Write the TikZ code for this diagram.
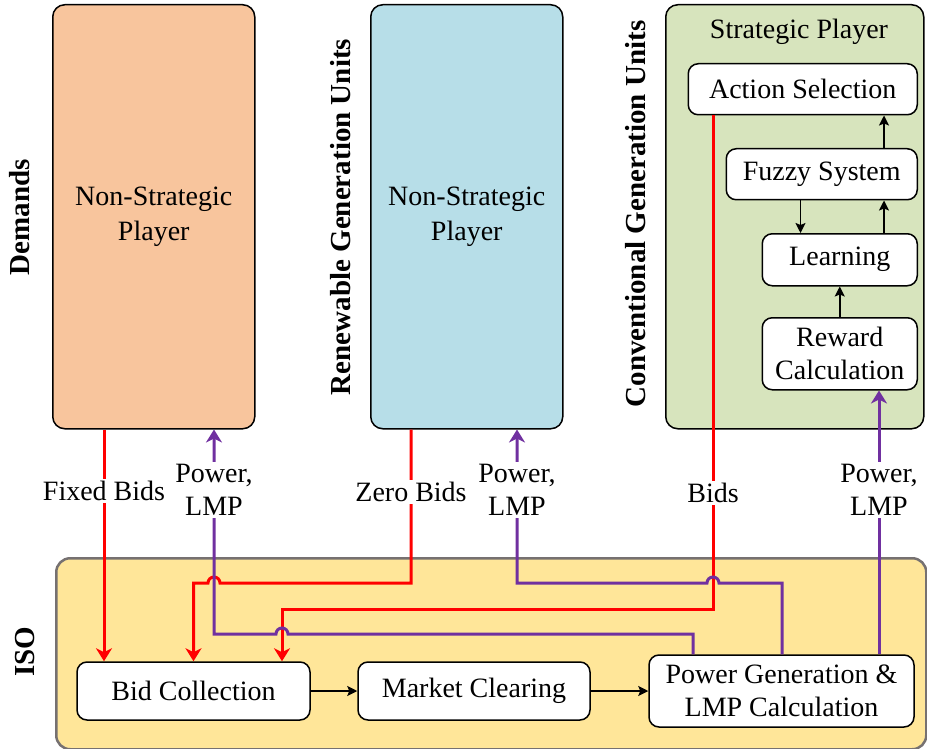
\documentclass[tikz,border=0pt]{standalone}
\usepackage{fontspec}
\setmainfont{Liberation Serif}
\usepackage{xcolor}
\usetikzlibrary{arrows.meta, positioning}
\definecolor{demandfill}{HTML}{F8C59D}
\definecolor{renewfill}{HTML}{B7DEE8}
\definecolor{stratfill}{HTML}{D7E4BD}
\definecolor{isofill}{HTML}{FFE699}
\definecolor{isoedge}{HTML}{767171}
\definecolor{bidred}{HTML}{FF0000}
\definecolor{powpurple}{HTML}{7030A0}

\begin{document}
\begin{tikzpicture}[x=1pt, y=-1pt,
    font=\fontsize{28}{33}\selectfont,
    player/.style={draw, line width=1.5pt, rounded corners=12pt, align=center, font=\fontsize{28}{35}\selectfont},
    blockbox/.style={draw, fill=white, line width=1.5pt, rounded corners=10pt, align=center, inner sep=0pt},
    sidelab/.style={rotate=90, font=\fontsize{29}{34}\selectfont\bfseries},
    linelab/.style={fill=white, align=center, inner sep=2pt},
    bidline/.style={draw=bidred, line width=3pt, -{Stealth[length=13pt, width=16pt, inset=4pt]}},
    powline/.style={draw=powpurple, line width=3pt, -{Stealth[length=13pt, width=16pt, inset=4pt]}},
    flowline/.style={line width=1.5pt, -{Stealth[length=10pt, width=10pt, inset=2pt]}}
  ]
    \useasboundingbox (0,0) rectangle (927,749);

    \node[player, fill=demandfill, minimum width=202pt, minimum height=424pt, anchor=north west] (demand) at (52,4) {Non-Strategic\\Player};
    \node[player, fill=renewfill, minimum width=192pt, minimum height=424pt, anchor=north west] (renew) at (370,4) {Non-Strategic\\Player};
    \node[player, fill=stratfill, minimum width=258pt, minimum height=424pt, anchor=north west] (strat) at (665,4) {};
    \node (stitle) at (799,32) {Strategic Player};

    \node[sidelab] (demlab) at (20,217) {Demands};
    \node[sidelab] (renlab) at (341,217) {Renewable Generation Units};
    \node[sidelab] (conlab) at (636,214) {Conventional Generation Units};
    \node[sidelab] (isolab) at (25,652) {ISO};

    \node[blockbox, minimum width=229pt, minimum height=51pt, anchor=north east] (action) at (918,63) {Action Selection};
    \node[blockbox, minimum width=191pt, minimum height=51pt, anchor=north east] (fuzzy) at (918,148) {Fuzzy System};
    \node[blockbox, minimum width=155pt, minimum height=52pt, anchor=north east] (learn) at (918,233) {Learning};
    \node[blockbox, minimum width=155pt, minimum height=72pt, anchor=north east] (reward) at (918,317) {Reward\\Calculation};

    \node[draw=isoedge, fill=isofill, line width=2.5pt, rounded corners=14pt, minimum width=870pt, minimum height=191pt, anchor=north west] (iso) at (55,557) {};
    \node[blockbox, minimum width=233pt, minimum height=58pt] (bidcol) at (193.5,691) {Bid Collection};
    \node[blockbox, minimum width=232pt, minimum height=58pt] (market) at (474,691) {Market Clearing};
    \node[blockbox, minimum width=265pt, minimum height=72pt] (pgl) at (781.5,691) {Power Generation \&\\LMP Calculation};

    \coordinate (fixcol) at (104,0);
    \coordinate (dpowcol) at (214,0);
    \coordinate (zerocol) at (411,0);
    \coordinate (rpowcol) at (517,0);
    \coordinate (bidscol) at (713,0);
    \coordinate (dropcol) at (282,0);
    \coordinate (doutcol) at (693,0);
    \coordinate (routcol) at (782,0);
    \coordinate (spowcol) at (879,0);

    \draw[flowline] ([xshift=-34pt]fuzzy.north east) -- ([xshift=-34pt]action.south east);
    \draw[flowline] ([xshift=75pt]fuzzy.south west) -- ([xshift=75pt]fuzzy.south west |- learn.north);
    \draw[flowline] ([xshift=-34pt]learn.north east) -- ([xshift=-34pt]fuzzy.south east);
    \draw[flowline] (reward) -- (learn);
    \draw[flowline] (bidcol) -- (market);
    \draw[flowline] (market) -- (pgl);

    \draw[bidline] (demand.south -| fixcol) -- (bidcol.north -| fixcol);
    \draw[bidline] (renew.south -| zerocol) -- (411,583) -- (220,583) arc[start angle=0, end angle=180, radius=6pt] -- (193.5,583) -- (bidcol.north);
    \draw[bidline] (action.south -| bidscol) -- (713,609) -- (282,609) -- (bidcol.north -| dropcol);
    \draw[powline] (pgl.north -| doutcol) -- (693,634) -- (288,634) arc[start angle=0, end angle=180, radius=6pt] -- (214,634) -- (demand.south -| dpowcol);
    \draw[powline] (pgl.north -| routcol) -- (782,583) -- (719,583) arc[start angle=0, end angle=180, radius=6pt] -- (517,583) -- (renew.south -| rpowcol);
    \draw[powline] (pgl.north -| spowcol) -- (reward.south -| spowcol);

    \node[linelab] (fixlab) at (104,491) {Fixed Bids};
    \node[linelab] (dpowlab) at (214,490) {Power,\\LMP};
    \node[linelab] (zerolab) at (411,492) {Zero Bids};
    \node[linelab] (rpowlab) at (517,490) {Power,\\LMP};
    \node[linelab] (bidslab) at (713,493) {Bids};
    \node[linelab] (spowlab) at (879,490) {Power,\\LMP};
  \end{tikzpicture}
\end{document}
